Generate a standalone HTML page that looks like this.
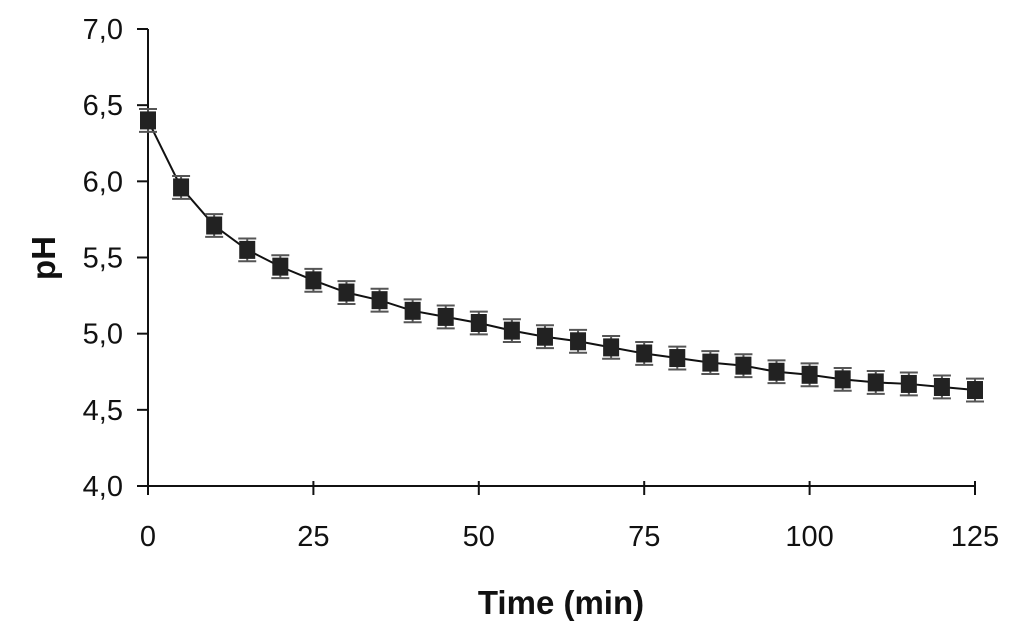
<!DOCTYPE html>
<html><head><meta charset="utf-8"><style>
body{margin:0;background:#fff;}
svg{display:block;font-family:"Liberation Sans",Arial,sans-serif;}
</style></head><body>
<svg id="chart" width="1024" height="629"></svg>
<script>
const times=[0,5,10,15,20,25,30,35,40,45,50,55,60,65,70,75,80,85,90,95,100,105,110,115,120,125];
const phValues=[6.40,5.96,5.71,5.55,5.44,5.35,5.27,5.22,5.15,5.11,5.07,5.02,4.98,4.95,4.91,4.87,4.84,4.81,4.79,4.75,4.73,4.70,4.68,4.67,4.65,4.63];
const errValues=[0.075,0.075,0.075,0.075,0.075,0.075,0.075,0.075,0.075,0.075,0.075,0.075,0.075,0.075,0.075,0.075,0.075,0.075,0.075,0.075,0.075,0.075,0.075,0.075,0.075,0.075];
const xTicks=[0,25,50,75,100,125];
const yTicks=[4.0,4.5,5.0,5.5,6.0,6.5,7.0];

const NS="http://www.w3.org/2000/svg";
const svg=document.getElementById('chart');
const X0=148,X1=975,Y0=486,Y1=29;
const xs=v=>X0+(v-0)/125*(X1-X0);
const ys=v=>Y0-(v-4)/3*(Y0-Y1);
function mk(tag,attrs,parent){const e=document.createElementNS(NS,tag);for(const k in attrs)e.setAttribute(k,attrs[k]);(parent||svg).appendChild(e);return e;}

let ax=mk('line',{x1:X0,y1:Y1,x2:X0,y2:Y0,stroke:'#111','stroke-width':2});


let bx=mk('line',{x1:X0-10,y1:Y0,x2:X1,y2:Y0,stroke:'#111','stroke-width':2});



yTicks.forEach(v=>{
  const y=ys(v);
  mk('line',{x1:X0-11,y1:y,x2:X0,y2:y,stroke:'#111','stroke-width':2});
  const t=mk('text',{x:123,y:y+10,'text-anchor':'end','font-size':29,fill:'#111'});
  t.textContent=v.toFixed(1).replace('.',',');
  
  
});
xTicks.forEach(v=>{
  const x=xs(v);
  mk('line',{x1:x,y1:Y0-5,x2:x,y2:Y0+9,stroke:'#111','stroke-width':2});
  const t=mk('text',{x:x,y:Y0+60,'text-anchor':'middle','font-size':29,fill:'#111'});
  t.textContent=v;
  
  
});

const pts=times.map((t,i)=>xs(t)+','+ys(phValues[i])).join(' ');
const line=mk('polyline',{points:pts,fill:'none',stroke:'#111','stroke-width':2});



times.forEach((t,i)=>{
  const x=xs(t),y=ys(phValues[i]),e=errValues[i];
  const g=mk('g',{});
  
  
  const yt=ys(phValues[i]+e),yb=ys(phValues[i]-e);
  mk('line',{x1:x,y1:yt,x2:x,y2:yb,stroke:'#555','stroke-width':2},g);
  mk('line',{x1:x-9,y1:yt,x2:x+9,y2:yt,stroke:'#555','stroke-width':2},g);
  mk('line',{x1:x-9,y1:yb,x2:x+9,y2:yb,stroke:'#555','stroke-width':2},g);
  mk('rect',{x:x-8,y:y-9,width:16,height:18,fill:'#222'},g);
});

const xt=mk('text',{x:561,y:614,'text-anchor':'middle','font-size':33,'font-weight':'bold',fill:'#111'});
xt.textContent='Time (min)';


const yt=mk('text',{x:0,y:0,'text-anchor':'middle','font-size':33,'font-weight':'bold',fill:'#111',transform:'translate(55,258) rotate(-90)'});
yt.textContent='pH';


</script>
</body></html>
